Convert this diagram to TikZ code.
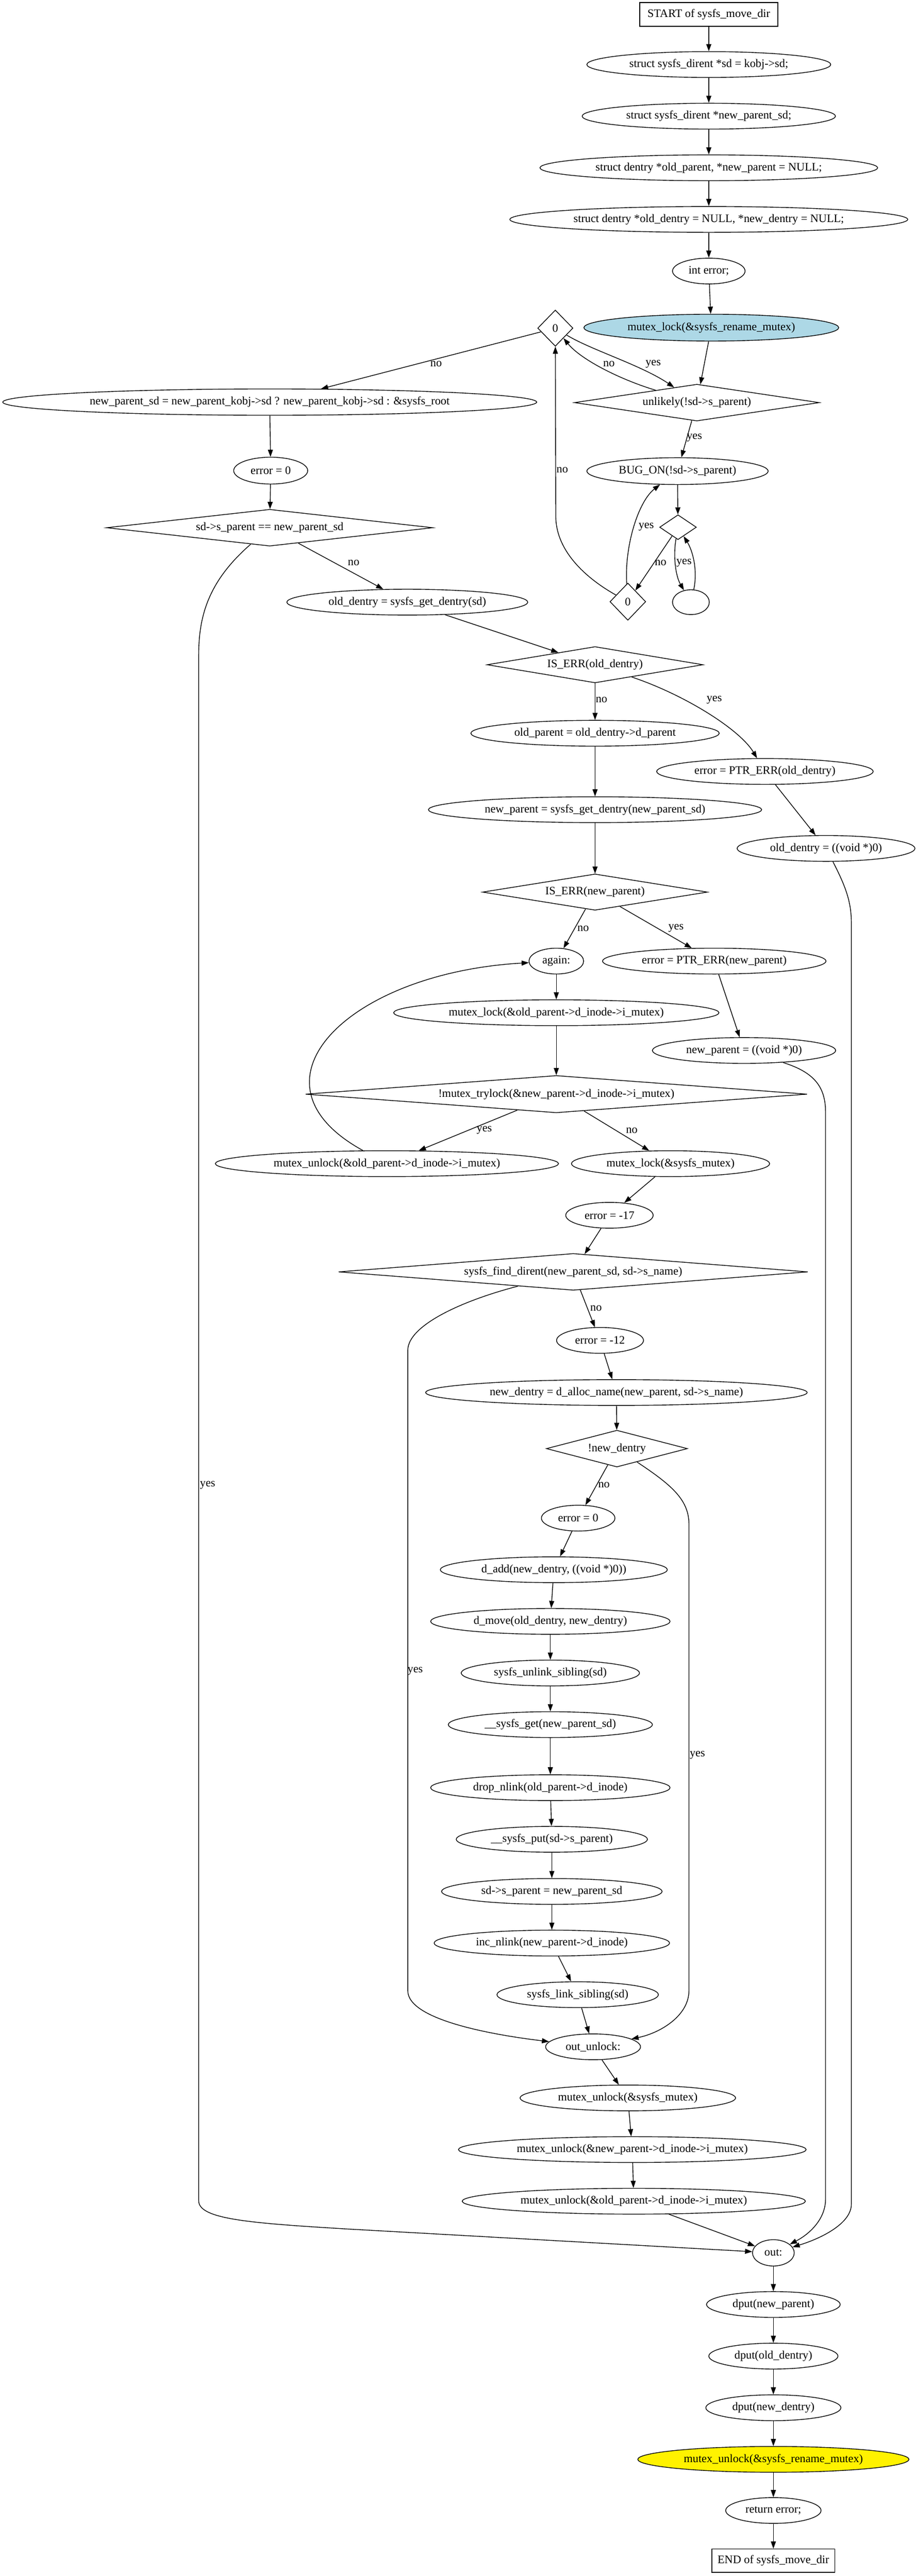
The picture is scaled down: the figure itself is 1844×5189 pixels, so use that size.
\documentclass[tikz,border=0pt]{standalone}
\usepackage{fontspec}
\setmainfont[Ligatures=NoCommon]{Liberation Serif}
\usetikzlibrary{shapes.geometric,arrows.meta}
\definecolor{lblue}{HTML}{ADD8E6}
\begin{document}
\begin{tikzpicture}[x=0.6925pt, y=-0.6925pt,
  font=\fontsize{16pt}{18pt}\selectfont,
  el/.style 2 args={ellipse, draw, line width=1pt, inner sep=0pt, minimum width=#1*0.6925pt, minimum height=#2*0.6925pt},
  bx/.style 2 args={rectangle, draw, line width=1pt, inner sep=0pt, minimum width=#1*0.6925pt, minimum height=#2*0.6925pt},
  dia/.style n args={3}{diamond, draw, line width=1pt, inner sep=0pt, shape aspect=#3, minimum width=#1*0.6925pt, minimum height=#2*0.6925pt},
  lbl/.style={inner sep=0pt},
  ar/.style={-{Triangle[length=10pt,width=7pt]}, line width=1pt}]
\useasboundingbox (0,0) rectangle (1844,5189);

% nodes
\node[bx={278}{48}] (start) at (1427,29) {START of sysfs\_move\_dir};
\node[el={491}{52}] (n1) at (1427,130) {struct sysfs\_dirent *sd = kobj->sd;};
\node[el={510}{52}] (n2) at (1427,234) {struct sysfs\_dirent *new\_parent\_sd;};
\node[el={680}{52}] (n3) at (1427,338) {struct dentry *old\_parent, *new\_parent = NULL;};
\node[el={801}{52}] (n4) at (1427,442) {struct dentry *old\_dentry = NULL, *new\_dentry = NULL;};
\node[el={146}{52}] (n5) at (1427,546) {int error;};
\node[el={513}{54}, fill=lblue] (lock) at (1432,660) {mutex\_lock(\&sysfs\_rename\_mutex)};
\node[dia={71}{73}{1}] (d0a) at (1118,661) {0};
\node[dia={493}{74}{6.7}] (unl) at (1403,811) {unlikely(!sd->s\_parent)};
\node[el={1075}{53}] (nps) at (543,810) {new\_parent\_sd = new\_parent\_kobj->sd ? new\_parent\_kobj->sd : \&sysfs\_root};
\node[el={149}{54}] (e0a) at (545,948) {error = 0};
\node[dia={657}{74}{8.9}] (dpar) at (543,1063) {sd->s\_parent == new\_parent\_sd};
\node[el={365}{54}] (bug) at (1364,949) {BUG\_ON(!sd->s\_parent)};
\node[dia={74}{50}{1.5}] (dsm) at (1365,1062) {};
\node[dia={72}{75}{1}] (d0b) at (1264,1212) {0};
\node[el={74}{50}] (circ) at (1391,1213) {};
\node[el={485}{52}] (od) at (820,1213) {old\_dentry = sysfs\_get\_dentry(sd)};
\node[dia={435}{73}{6}] (iserr1) at (1198,1339) {IS\_ERR(old\_dentry)};
\node[el={500}{52}] (op) at (1198,1477) {old\_parent = old\_dentry->d\_parent};
\node[el={436}{52}] (pe1) at (1540,1554) {error = PTR\_ERR(old\_dentry)};
\node[el={671}{52}] (np) at (1198,1631) {new\_parent = sysfs\_get\_dentry(new\_parent\_sd)};
\node[el={358}{52}] (odn) at (1663,1709) {old\_dentry = ((void *)0)};
\node[dia={453}{73}{6.2}] (iserr2) at (1198,1797) {IS\_ERR(new\_parent)};
\node[el={110}{52}] (again) at (1120,1936) {again:};
\node[el={450}{52}] (pe2) at (1438,1936) {error = PTR\_ERR(new\_parent)};
\node[el={655}{52}] (mlo) at (1120,2040) {mutex\_lock(\&old\_parent->d\_inode->i\_mutex)};
\node[el={369}{52}] (npn) at (1498,2116) {new\_parent = ((void *)0)};
\node[dia={1010}{75}{13.5}] (try) at (1120,2204) {!mutex\_trylock(\&new\_parent->d\_inode->i\_mutex)};
\node[el={691}{52}] (muo) at (779,2344) {mutex\_unlock(\&old\_parent->d\_inode->i\_mutex)};
\node[el={399}{52}] (msm) at (1350,2344) {mutex\_lock(\&sysfs\_mutex)};
\node[el={176}{52}] (e17) at (1227,2448) {error = -17};
\node[dia={945}{74}{12.8}] (fd) at (1154,2562) {sysfs\_find\_dirent(new\_parent\_sd, sd->s\_name)};
\node[el={175}{52}] (e12) at (1208,2700) {error = -12};
\node[el={768}{52}] (nd) at (1241,2805) {new\_dentry = d\_alloc\_name(new\_parent, sd->s\_name)};
\node[dia={284}{74}{3.8}] (dnd) at (1242,2918) {!new\_dentry};
\node[el={148}{52}] (e0b) at (1164,3058) {error = 0};
\node[el={457}{52}] (dadd) at (1115,3162) {d\_add(new\_dentry, ((void *)0))};
\node[el={482}{52}] (dmv) at (1108,3266) {d\_move(old\_dentry, new\_dentry)};
\node[el={359}{52}] (uls) at (1108,3370) {sysfs\_unlink\_sibling(sd)};
\node[el={411}{52}] (sget) at (1108,3474) {\_\_sysfs\_get(new\_parent\_sd)};
\node[el={482}{52}] (dnl) at (1108,3601) {drop\_nlink(old\_parent->d\_inode)};
\node[el={385}{52}] (sput) at (1111,3705) {\_\_sysfs\_put(sd->s\_parent)};
\node[el={444}{52}] (spa) at (1111,3810) {sd->s\_parent = new\_parent\_sd};
\node[el={474}{52}] (inl) at (1111,3914) {inc\_nlink(new\_parent->d\_inode)};
\node[el={325}{52}] (lks) at (1163,4018) {sysfs\_link\_sibling(sd)};
\node[el={191}{52}] (oul) at (1194,4123) {out\_unlock:};
\node[el={434}{52}] (mus) at (1264,4226) {mutex\_unlock(\&sysfs\_mutex)};
\node[el={700}{52}] (mun) at (1273,4330) {mutex\_unlock(\&new\_parent->d\_inode->i\_mutex)};
\node[el={691}{52}] (muo2) at (1276,4434) {mutex\_unlock(\&old\_parent->d\_inode->i\_mutex)};
\node[el={84}{53}] (out) at (1557,4538) {out:};
\node[el={269}{52}] (dp1) at (1557,4642) {dput(new\_parent)};
\node[el={260}{52}] (dp2) at (1557,4746) {dput(old\_dentry)};
\node[el={272}{52}] (dp3) at (1557,4850) {dput(new\_dentry)};
\node[el={546}{52}, fill=yellow] (mur) at (1557,4954) {mutex\_unlock(\&sysfs\_rename\_mutex)};
\node[el={192}{52}] (ret) at (1557,5057) {return error;};
\node[bx={248}{47}] (end) at (1557,5158) {END of sysfs\_move\_dir};

% straight chain edges
\draw[ar] (start) -- (n1);
\draw[ar] (n1) -- (n2);
\draw[ar] (n2) -- (n3);
\draw[ar] (n3) -- (n4);
\draw[ar] (n4) -- (n5);
\draw[ar] (n5) -- (lock);
\draw[ar] (lock) -- (unl);
\draw[ar] (d0a) -- (nps);
\draw[ar] (unl) -- (bug);
\draw[ar] (bug) -- (dsm);
\draw[ar] (dsm) -- (d0b);
\draw[ar] (nps) -- (e0a);
\draw[ar] (e0a) -- (dpar);
\draw[ar] (dpar) -- (od);
\draw[ar] (od) -- (iserr1);
\draw[ar] (iserr1) -- (op);
\draw[ar] (pe1) -- (odn);
\draw[ar] (op) -- (np);
\draw[ar] (np) -- (iserr2);
\draw[ar] (iserr2) -- (again);
\draw[ar] (iserr2) -- (pe2);
\draw[ar] (pe2) -- (npn);
\draw[ar] (again) -- (mlo);
\draw[ar] (mlo) -- (try);
\draw[ar] (try) -- (muo);
\draw[ar] (try) -- (msm);
\draw[ar] (msm) -- (e17);
\draw[ar] (e17) -- (fd);
\draw[ar] (fd) -- (e12);
\draw[ar] (e12) -- (nd);
\draw[ar] (nd) -- (dnd);
\draw[ar] (dnd) -- (e0b);
\draw[ar] (e0b) -- (dadd);
\draw[ar] (dadd) -- (dmv);
\draw[ar] (dmv) -- (uls);
\draw[ar] (uls) -- (sget);
\draw[ar] (sget) -- (dnl);
\draw[ar] (dnl) -- (sput);
\draw[ar] (sput) -- (spa);
\draw[ar] (spa) -- (inl);
\draw[ar] (inl) -- (lks);
\draw[ar] (lks) -- (oul);
\draw[ar] (oul) -- (mus);
\draw[ar] (mus) -- (mun);
\draw[ar] (mun) -- (muo2);
\draw[ar] (muo2) -- (out);
\draw[ar] (out) -- (dp1);
\draw[ar] (dp1) -- (dp2);
\draw[ar] (dp2) -- (dp3);
\draw[ar] (dp3) -- (mur);
\draw[ar] (mur) -- (ret);
\draw[ar] (ret) -- (end);

% curved edges
\draw[ar] (unl) .. controls (1250,765) and (1170,725) .. (d0a);
\draw[ar] (d0a) .. controls (1190,705) and (1290,735) .. (unl);
\draw[ar] (dsm) .. controls (1355,1120) and (1360,1160) .. (circ);
\draw[ar] (circ) .. controls (1405,1150) and (1395,1110) .. (dsm);
\draw[ar] (d0b) .. controls (1257,1100) and (1285,1010) .. (bug);
\draw[ar] (d0b) .. controls (1180,1165) and (1119,1110) .. (1119,1040) -- (d0a);
\draw[ar] (dpar) .. controls (420,1170) and (400,1240) .. (400,1320) -- (400,4433) .. controls (400,4470) and (500,4478) .. (700,4490) -- (out);
\draw[ar] (iserr1) .. controls (1380,1400) and (1490,1470) .. (pe1);
\draw[ar] (odn) .. controls (1705,1790) and (1714,1820) .. (1714,1860) -- (1714,4440) .. controls (1714,4480) and (1650,4510) .. (out);
\draw[ar] (npn) .. controls (1640,2160) and (1662,2190) .. (1662,2240) -- (1662,4430) .. controls (1662,4470) and (1630,4500) .. (out);
\draw[ar] (muo) .. controls (480,2180) and (700,1960) .. (again);
\draw[ar] (fd) .. controls (930,2620) and (821,2670) .. (821,2720) -- (821,4010) .. controls (821,4070) and (1000,4100) .. (oul);
\draw[ar] (dnd) .. controls (1350,2990) and (1387,3020) .. (1387,3070) -- (1387,4010) .. controls (1387,4060) and (1330,4095) .. (oul);

% edge labels
\node[lbl] (l1) at (878,733) {no};
\node[lbl] (l2) at (1226,733) {no};
\node[lbl] (l3) at (1315,733) {yes};
\node[lbl] (l4) at (1398,882) {yes};
\node[lbl] (l5) at (1132,947) {no};
\node[lbl] (l6) at (1301,1061) {yes};
\node[lbl] (l7) at (1330,1134) {no};
\node[lbl] (l8) at (1377,1134) {yes};
\node[lbl] (l9) at (712,1134) {no};
\node[lbl] (l10) at (1211,1410) {no};
\node[lbl] (l11) at (1438,1410) {yes};
\node[lbl] (l12) at (1174,1870) {no};
\node[lbl] (l13) at (1361,1870) {yes};
\node[lbl] (l14) at (975,2277) {yes};
\node[lbl] (l15) at (1272,2277) {no};
\node[lbl] (l16) at (1200,2635) {no};
\node[lbl] (l17) at (1216,2991) {no};
\node[lbl] (l18) at (418,2992) {yes};
\node[lbl] (l19) at (836,3366) {yes};
\node[lbl] (l20) at (1404,3535) {yes};
\end{tikzpicture}
\end{document}
